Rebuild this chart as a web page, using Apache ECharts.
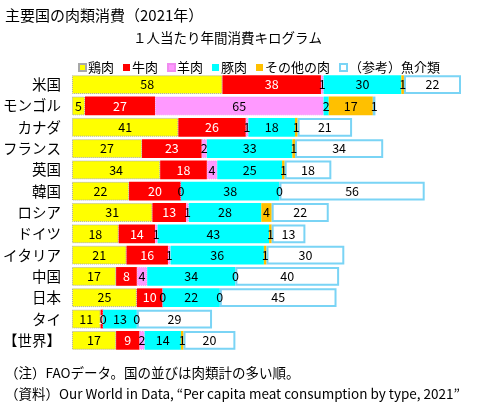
<!DOCTYPE html>
<html>
<head>
<meta charset="utf-8">
<script src="https://cdn.jsdelivr.net/npm/echarts@6/dist/echarts.min.js"></script>
<style>
  html, body { margin: 0; padding: 0; background: #fff; }
  #chart { width: 484px; height: 404px; }
</style>
</head>
<body>
<div id="chart"></div>
<script>
// 国（肉類計の多い順）
const countries = ['米国', 'モンゴル', 'カナダ', 'フランス', '英国', '韓国', 'ロシア',
  'ドイツ', 'イタリア', '中国', '日本', 'タイ', '【世界】'];

// 1人当たり年間消費 kg（2021年）
const chicken = [58, 5, 41, 27, 34, 22, 31, 18, 21, 17, 25, 11, 17];
const beef    = [38, 27, 26, 23, 18, 20, 13, 14, 16, 8, 10, 1, 9];
const mutton  = [1, 65, 1, 2, 4, 0, 1, 1, 1, 4, 0, 0, 2];
const pork    = [30, 2, 18, 33, 25, 38, 28, 43, 36, 34, 22, 13, 14];
const other   = [1, 17, 1, 1, 1, 0, 4, 1, 1, 0, 0, 0, 1];
const fish    = [22, 1, 21, 34, 18, 56, 22, 13, 30, 40, 45, 29, 20];

const FONT = '"Noto Sans CJK JP", sans-serif';

function seg(name, data, item, labelColor) {
  return {
    name: name,
    type: 'bar',
    stack: 'total',
    data: data,
    barCategoryGap: '12%',
    itemStyle: item,
    label: {
      show: true,
      position: 'inside',
      color: labelColor || '#000',
      fontSize: 12.5,
      fontFamily: FONT
    },
    emphasis: { disabled: true }
  };
}

const chart = echarts.init(document.getElementById('chart'));
chart.setOption({
  animation: false,
  backgroundColor: '#fff',
  title: [
    { text: '主要国の肉類消費（2021年）', left: 0, top: 3,
      textStyle: { fontSize: 15, fontWeight: 'normal', color: '#000', fontFamily: FONT } },
    { text: '１人当たり年間消費キログラム', left: 128, top: 26,
      textStyle: { fontSize: 13.5, fontWeight: 'normal', color: '#000', fontFamily: FONT } },
    { text: '（注）FAOデータ。国の並びは肉類計の多い順。', left: 0, top: 361,
      textStyle: { fontSize: 13.5, fontWeight: 'normal', color: '#000', fontFamily: FONT } },
    { text: '（資料）Our World in Data, “Per capita meat consumption by type, 2021”', left: 0, top: 382,
      textStyle: { fontSize: 13.5, fontWeight: 'normal', color: '#000', fontFamily: FONT } }
  ],
  legend: {
    left: 73,
    top: 56,
    itemWidth: 7,
    itemHeight: 7,
    itemGap: 9,
    icon: 'rect',
    textStyle: { fontSize: 13, color: '#000', fontFamily: FONT, padding: [0, 0, 0, -3] },
    data: ['鶏肉', '牛肉', '羊肉', '豚肉', 'その他の肉', '（参考）魚介類']
  },
  grid: { left: 68, right: 23, top: 74, bottom: 53 },
  xAxis: {
    type: 'value',
    min: 0,
    max: 150,
    show: false
  },
  yAxis: {
    type: 'category',
    data: countries,
    inverse: true,
    axisLine: { show: false },
    axisTick: { show: false },
    axisLabel: { color: '#000', fontSize: 14.5, margin: 11, fontFamily: FONT }
  },
  series: [
    seg('鶏肉', chicken, { color: '#FFFF00', borderColor: '#A8A8A8', borderWidth: 1, borderType: 'dotted' }),
    seg('牛肉', beef, { color: '#FF0000' }, '#fff'),
    seg('羊肉', mutton, { color: '#FF99FF', borderColor: '#F08CF0', borderWidth: 1, borderType: 'dotted' }),
    seg('豚肉', pork, { color: '#00FFFF' }),
    seg('その他の肉', other, { color: '#FFC000' }),
    seg('（参考）魚介類', fish, { color: '#FFFFFF', borderColor: '#7AD4F5', borderWidth: 2 })
  ]
});
</script>
</body>
</html>
